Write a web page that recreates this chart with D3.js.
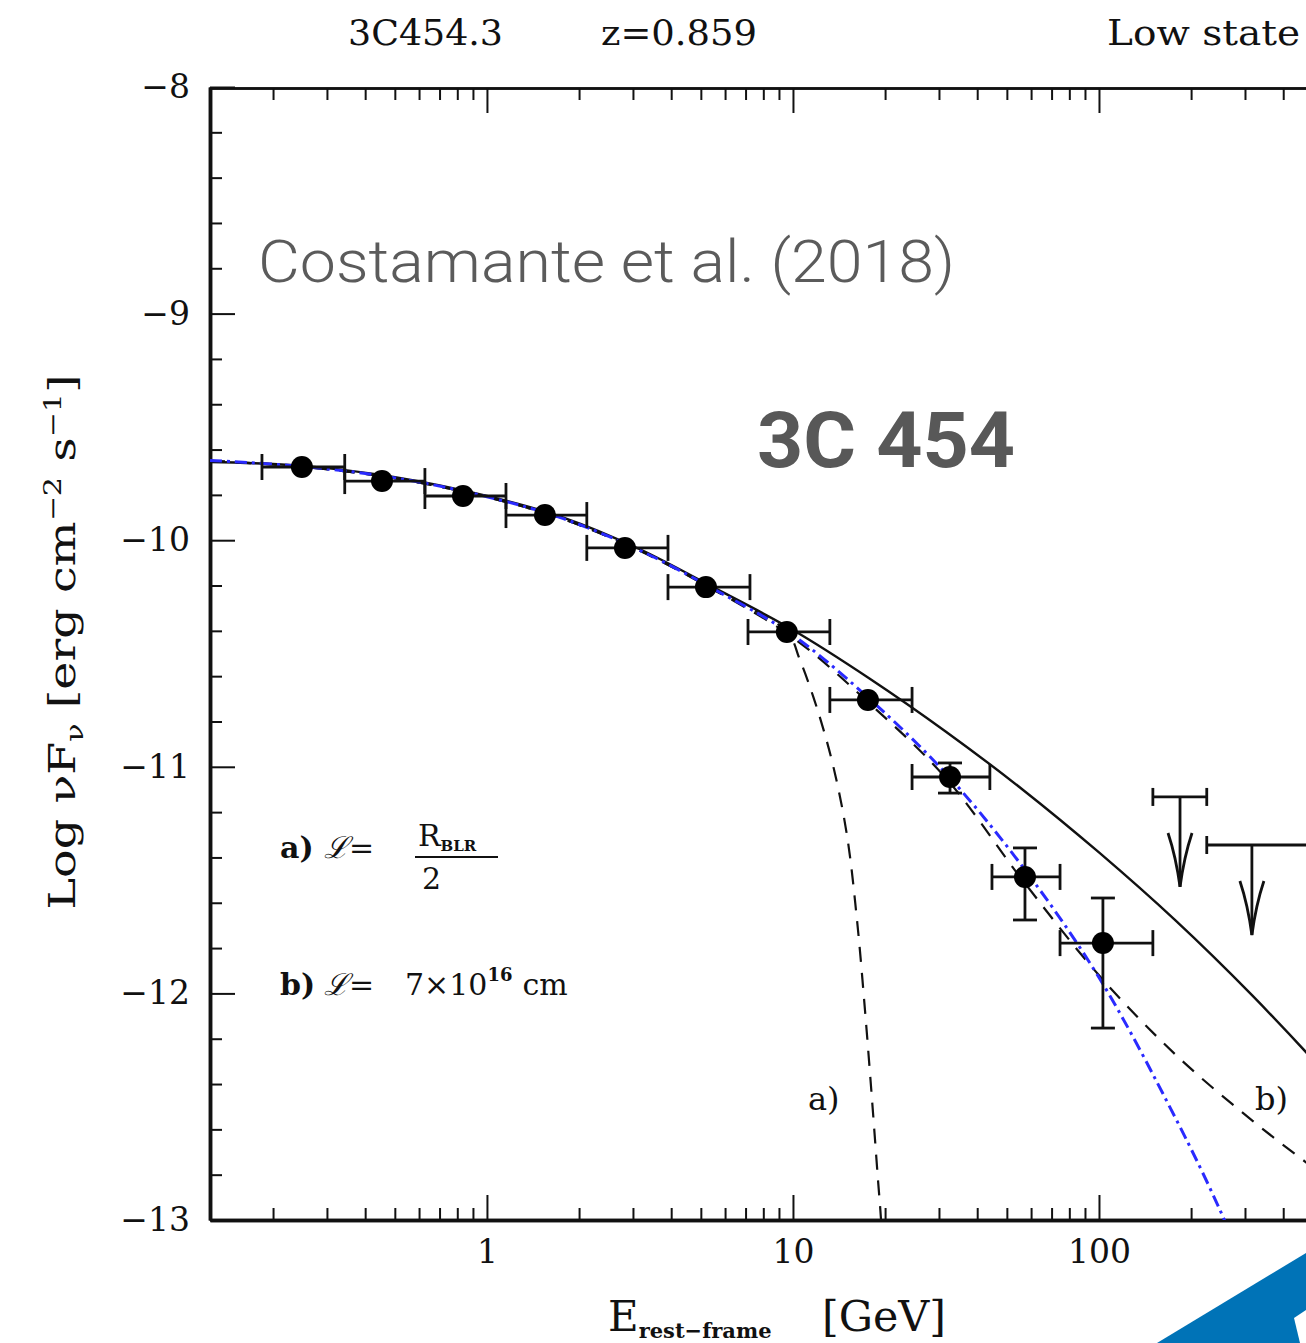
<!DOCTYPE html>
<html>
<head>
<meta charset="utf-8">
<script src="https://cdn.jsdelivr.net/npm/d3@7"></script>
<style>
  html, body { margin: 0; padding: 0; background: #fff; overflow: hidden; }
  svg { display: block; }
  .axis path, .axis line { stroke: #111; }
  .axis text { font-family: "DejaVu Serif", serif; fill: #111; }
  .ser { font-family: "DejaVu Serif", serif; fill: #111; }
</style>
</head>
<body>
<div id="chart"></div>
<script>
"use strict";

// measured points (GeV, log nuFnu)
var energy   = [0.2485, 0.454, 0.835, 1.547, 2.825, 5.196, 9.55, 17.58, 32.6, 57.3, 103.0];
var energyLo = [0.184, 0.343, 0.627, 1.154, 2.12, 3.905, 7.13, 13.2, 24.5, 44.7, 74.6];
var energyHi = [0.343, 0.627, 1.154, 2.12, 3.905, 7.236, 13.2, 24.5, 44.0, 74.6, 150];
var flux     = [-9.677, -9.739, -9.805, -9.889, -10.034, -10.207, -10.405, -10.705, -11.045, -11.486, -11.778];
var fluxErrUp = [0, 0, 0, 0, 0, 0, 0, 0, 0.062, 0.128, 0.199];
var fluxErrDn = [0, 0, 0, 0, 0, 0, 0, 0, 0.071, 0.190, 0.375];

// upper limits
var ulEnergy = [184, 316];
var ulLo     = [150, 225];
var ulHi     = [225, 600];
var ulFlux   = [-11.133, -11.345];

// model curves
var solidE = [0.1245, 0.251, 0.501, 1.0, 1.778, 3.162, 5.623, 10.0, 17.78, 31.62, 56.23, 100, 177.8, 316.2, 562.3, 1000];
var solidF = [-9.655, -9.672, -9.722, -9.805, -9.900, -10.040, -10.215, -10.396, -10.61, -10.845, -11.10, -11.378, -11.678, -12.008, -12.368, -12.758];

var blueE = [0.1245, 0.251, 0.501, 1.0, 1.778, 3.162, 5.623, 10.0, 17.78, 31.62, 56.23, 100, 177.8, 251.2, 316.2];
var blueF = [-9.648, -9.675, -9.725, -9.808, -9.905, -10.045, -10.222, -10.42, -10.70, -11.03, -11.44, -11.93, -12.55, -12.97, -13.3];

var aE = [0.1245, 0.251, 0.501, 1.0, 1.778, 3.162, 5.623, 9.56, 10.54, 11.98, 13.51, 15.01, 16.19, 17.19, 18.13, 18.96, 19.40, 19.7];
var aF = [-9.650, -9.676, -9.727, -9.810, -9.907, -10.047, -10.225, -10.405, -10.529, -10.741, -10.992, -11.301, -11.676, -12.073, -12.470, -12.823, -13.0, -13.2];

var bE = [0.1245, 0.251, 0.501, 1.0, 1.778, 3.162, 5.623, 10.0, 17.78, 31.62, 56.23, 100, 177.8, 316.2, 562.3, 1000];
var bF = [-9.650, -9.676, -9.727, -9.810, -9.907, -10.047, -10.225, -10.43, -10.72, -11.05, -11.50, -11.92, -12.27, -12.56, -12.82, -13.07];

var yMajor = [-8, -9, -10, -11, -12, -13];
var xMajor = [1, 10, 100];

var W = 1306, H = 1343;
var svg = d3.select("#chart").append("svg").attr("width", W).attr("height", H);

var x = d3.scaleLog().domain([Math.pow(10, -0.905), 1000]).range([210, 1405]);
var y = d3.scaleLinear().domain([-13, -8]).range([1220, 87]);

var xMinor = [];
[0.1, 1, 10, 100].forEach(function(dec) {
    for (var k = 2; k <= 9; k++) {
        var v = dec * k;
        if (v > x.domain()[0]) xMinor.push(v);
    }
});
var yMinor = d3.range(-13, -8.0001, 0.2).filter(function(v) {
    return Math.abs(v - Math.round(v)) > 0.01;
});

svg.append("defs").append("clipPath").attr("id", "plot")
    .append("rect").attr("x", 210).attr("y", 87).attr("width", 1200).attr("height", 1133);

// axes
function styleAxis(g, w) {
    g.select(".domain").attr("stroke-width", w);
    g.selectAll(".tick line").attr("stroke-width", 2);
}

svg.append("g").attr("class", "axis")
    .attr("transform", "translate(0,1220)")
    .call(d3.axisBottom(x).tickValues(xMinor).tickSizeInner(-12).tickSizeOuter(0).tickFormat(""))
    .call(styleAxis, 3.5);
svg.append("g").attr("class", "axis")
    .attr("transform", "translate(0,1220)")
    .call(d3.axisBottom(x).tickValues(xMajor).tickSizeInner(-25).tickSizeOuter(0)
        .tickPadding(20).tickFormat(d3.format("d")))
    .call(styleAxis, 3.5)
    .selectAll("text").attr("font-size", 33);

svg.append("g").attr("class", "axis")
    .attr("transform", "translate(0,88)")
    .call(d3.axisTop(x).tickValues(xMinor).tickSizeInner(-12).tickSizeOuter(0).tickFormat(""))
    .call(styleAxis, 2.5);
svg.append("g").attr("class", "axis")
    .attr("transform", "translate(0,88)")
    .call(d3.axisTop(x).tickValues(xMajor).tickSizeInner(-25).tickSizeOuter(0).tickFormat(""))
    .call(styleAxis, 2.5);

svg.append("g").attr("class", "axis")
    .attr("transform", "translate(210,0)")
    .call(d3.axisLeft(y).tickValues(yMinor).tickSizeInner(-12).tickSizeOuter(0).tickFormat(""))
    .call(styleAxis, 3.5);
svg.append("g").attr("class", "axis")
    .attr("transform", "translate(210,0)")
    .call(d3.axisLeft(y).tickValues(yMajor).tickSizeInner(-25).tickSizeOuter(0)
        .tickPadding(20).tickFormat(d3.format("d")))
    .call(styleAxis, 3.5)
    .selectAll("text").attr("font-size", 33);

// model curves
var plot = svg.append("g").attr("clip-path", "url(#plot)");
function curve(es, fs) {
    return d3.line().curve(d3.curveCatmullRom.alpha(0.5))
        .x(function(d) { return x(d[0]); })
        .y(function(d) { return y(d[1]); })(d3.zip(es, fs));
}
plot.append("path").attr("d", curve(aE, aF))
    .attr("fill", "none").attr("stroke", "#111").attr("stroke-width", 2.2).attr("stroke-dasharray", "15,11");
plot.append("path").attr("d", curve(bE, bF))
    .attr("fill", "none").attr("stroke", "#111").attr("stroke-width", 2.2).attr("stroke-dasharray", "15,11");
plot.append("path").attr("d", curve(solidE, solidF))
    .attr("fill", "none").attr("stroke", "#111").attr("stroke-width", 2.4);
plot.append("path").attr("d", curve(blueE, blueF))
    .attr("fill", "none").attr("stroke", "#2a2aff").attr("stroke-width", 3).attr("stroke-dasharray", "12,5,3,5");

// data points with error bars
var cap = 13;
var pts = plot.selectAll("g.pt").data(energy).enter().append("g").attr("class", "pt");
pts.each(function(e, i) {
    var g = d3.select(this), cx = x(e), cy = y(flux[i]);
    var x0 = x(energyLo[i]), x1 = x(energyHi[i]);
    g.append("line").attr("x1", x0).attr("x2", x1).attr("y1", cy).attr("y2", cy);
    g.append("line").attr("x1", x0).attr("x2", x0).attr("y1", cy - cap).attr("y2", cy + cap);
    g.append("line").attr("x1", x1).attr("x2", x1).attr("y1", cy - cap).attr("y2", cy + cap);
    if (fluxErrUp[i] > 0) {
        var yt = y(flux[i] + fluxErrUp[i]), yb = y(flux[i] - fluxErrDn[i]);
        g.append("line").attr("x1", cx).attr("x2", cx).attr("y1", yt).attr("y2", yb);
        g.append("line").attr("x1", cx - 12).attr("x2", cx + 12).attr("y1", yt).attr("y2", yt);
        g.append("line").attr("x1", cx - 12).attr("x2", cx + 12).attr("y1", yb).attr("y2", yb);
    }
    g.selectAll("line").attr("stroke", "#111").attr("stroke-width", 2.8);
    g.append("circle").attr("cx", cx).attr("cy", cy).attr("r", 11).attr("fill", "#000");
});

// upper limits
ulEnergy.forEach(function(e, i) {
    var g = plot.append("g"), cx = x(e), cy = y(ulFlux[i]);
    var x0 = x(ulLo[i]), x1 = x(ulHi[i]), tip = cy + 90;
    g.append("line").attr("x1", x0).attr("x2", x1).attr("y1", cy).attr("y2", cy);
    g.append("line").attr("x1", x0).attr("x2", x0).attr("y1", cy - 9).attr("y2", cy + 9);
    g.append("line").attr("x1", x1).attr("x2", x1).attr("y1", cy - 9).attr("y2", cy + 9);
    g.append("line").attr("x1", cx).attr("x2", cx).attr("y1", cy).attr("y2", tip);
    g.append("path").attr("d", "M" + (cx - 12) + "," + (tip - 54) + "Q" + (cx - 4) + "," + (tip - 30) + " " + cx + "," + tip +
        "Q" + (cx + 4) + "," + (tip - 30) + " " + (cx + 12) + "," + (tip - 54))
        .attr("fill", "none");
    g.selectAll("line, path").attr("stroke", "#111").attr("stroke-width", 2.8);
});

// title row
svg.append("text").attr("class", "ser").attr("x", 348).attr("y", 45).attr("font-size", 36)
    .attr("textLength", 155).attr("lengthAdjust", "spacingAndGlyphs").text("3C454.3");
svg.append("text").attr("class", "ser").attr("x", 601).attr("y", 45).attr("font-size", 36)
    .attr("textLength", 156).attr("lengthAdjust", "spacingAndGlyphs").text("z=0.859");
svg.append("text").attr("class", "ser").attr("x", 1107).attr("y", 45).attr("font-size", 36)
    .attr("textLength", 193).attr("lengthAdjust", "spacingAndGlyphs").text("Low state");

// y axis label
var yl = svg.append("text").attr("class", "ser").attr("font-size", 38)
    .attr("transform", "translate(75,642) rotate(-90)").attr("text-anchor", "middle")
    .attr("textLength", 535).attr("lengthAdjust", "spacingAndGlyphs");
yl.append("tspan").text("Log \u03bdF");
yl.append("tspan").attr("font-size", 24).attr("dy", 8).text("\u03bd");
yl.append("tspan").attr("dy", -8).text("  [erg cm");
yl.append("tspan").attr("font-size", 24).attr("dy", -14).text("\u22122");
yl.append("tspan").attr("dy", 14).text(" s");
yl.append("tspan").attr("font-size", 24).attr("dy", -14).text("\u22121");
yl.append("tspan").attr("dy", 14).text("]");

// x axis label
var xl = svg.append("text").attr("class", "ser").attr("x", 608).attr("y", 1331).attr("font-size", 42);
xl.append("tspan").text("E");
xl.append("tspan").attr("font-size", 21).attr("dy", 7).attr("font-weight", "bold").text("rest\u2212frame");
svg.append("text").attr("class", "ser").attr("x", 822).attr("y", 1331).attr("font-size", 42)
    .attr("textLength", 124).attr("lengthAdjust", "spacingAndGlyphs").text("[GeV]");

// model annotations
svg.append("text").attr("class", "ser").attr("x", 280).attr("y", 858).attr("font-size", 30).attr("font-weight", "bold").text("a)");
svg.append("text").attr("class", "ser").attr("x", 324).attr("y", 858).attr("font-size", 30).attr("font-style", "italic").text("\u2112=");
var rb = svg.append("text").attr("class", "ser").attr("x", 418).attr("y", 846).attr("font-size", 30);
rb.append("tspan").text("R");
rb.append("tspan").attr("font-size", 15).attr("font-weight", "bold").attr("dy", 5).text("BLR");
svg.append("line").attr("x1", 415).attr("x2", 498).attr("y1", 857).attr("y2", 857).attr("stroke", "#111").attr("stroke-width", 2);
svg.append("text").attr("class", "ser").attr("x", 422).attr("y", 889).attr("font-size", 30).text("2");

svg.append("text").attr("class", "ser").attr("x", 280).attr("y", 995).attr("font-size", 30).attr("font-weight", "bold").text("b)");
svg.append("text").attr("class", "ser").attr("x", 324).attr("y", 995).attr("font-size", 30).attr("font-style", "italic").text("\u2112=");
var bl = svg.append("text").attr("class", "ser").attr("x", 405).attr("y", 995).attr("font-size", 30);
bl.append("tspan").text("7\u00d710");
bl.append("tspan").attr("font-size", 18).attr("font-weight", "bold").attr("dy", -14).text("16");
bl.append("tspan").attr("dy", 14).attr("dx", 10).text("cm");

svg.append("text").attr("class", "ser").attr("x", 808).attr("y", 1110).attr("font-size", 32).text("a)");
svg.append("text").attr("class", "ser").attr("x", 1255).attr("y", 1110).attr("font-size", 32).text("b)");

// overlay captions
svg.append("text").attr("x", 258).attr("y", 282).attr("font-family", "Roboto, 'Liberation Sans', sans-serif")
    .attr("font-weight", 300).attr("font-size", 59).attr("fill", "#5b5b5b")
    .attr("textLength", 697).attr("lengthAdjust", "spacingAndGlyphs").text("Costamante et al. (2018)");
svg.append("text").attr("x", 757).attr("y", 467).attr("font-family", "Roboto, 'Liberation Sans', sans-serif")
    .attr("font-weight", "bold").attr("font-size", 77).attr("fill", "#585858")
    .attr("textLength", 258).attr("lengthAdjust", "spacingAndGlyphs").text("3C 454");

// corner logo fragment
svg.append("path").attr("d", "M1157,1343L1306,1253L1306,1343Z").attr("fill", "#0073b7");
svg.append("path").attr("d", "M1294,1318L1306,1310L1306,1343L1300,1343Z").attr("fill", "#fff");
</script>
</body>
</html>
